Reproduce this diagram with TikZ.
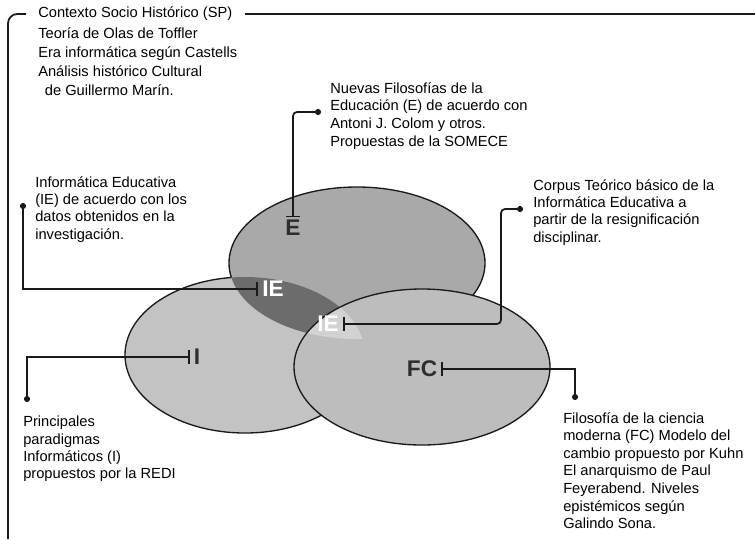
\documentclass[tikz,border=0pt]{standalone}
\usepackage{fontspec}
\setmainfont{Liberation Sans}
\usetikzlibrary{arrows.meta}
\definecolor{ovalE}{HTML}{A9A9A9}
\definecolor{ovalI}{HTML}{C3C3C3}
\definecolor{ovalFC}{HTML}{BDBDBD}
\definecolor{ovalIE}{HTML}{6C6C6C}
\definecolor{ovalmid}{HTML}{D2D2D2}
\definecolor{linegray}{HTML}{1A1A1A}
\definecolor{lettergray}{HTML}{2E2E2E}
\newcommand\ovalE{(357,263) ellipse [x radius=128, y radius=76]}
\newcommand\ovalI{(245,355) ellipse [x radius=120, y radius=78]}
\newcommand\ovalFC{(422,367) ellipse [x radius=128, y radius=78]}

\begin{document}
\begin{tikzpicture}[
  x=0.75pt, y=-0.75pt,
  note/.style={anchor=north west, inner sep=0pt, align=left, font=\fontsize{11}{13}\selectfont},
  letter/.style={inner xsep=3pt, inner ysep=2pt, font=\fontsize{17}{17}\selectfont\bfseries, text=lettergray},
  link/.style={draw=linegray, line width=1.3pt, {Circle[length=4.5pt]}-{Bar[width=10pt]}},
  frame/.style={draw=linegray, line width=1.3pt},
  rim/.style={draw=linegray, line width=1pt}
]
  \useasboundingbox (0,0) rectangle (755,539);
  % ovals
  \filldraw[fill=ovalE, rim] \ovalE;
  \fill[ovalI] \ovalI;
  \begin{scope}[even odd rule]
    \clip (0,0) rectangle (755,539) \ovalE;
    \draw[rim] \ovalI;
  \end{scope}
  \begin{scope}
    \clip \ovalE;
    \fill[ovalIE] \ovalI;
  \end{scope}
  \fill[ovalFC] \ovalFC;
  \begin{scope}
    \clip \ovalE;
    \clip \ovalI;
    \fill[ovalmid] \ovalFC;
  \end{scope}
  \draw[rim] \ovalFC;

  % letters
  \node[letter] (lblE) at (293,228) {E};
  \node[letter, text=white] (iea) at (273,289) {IE};
  \node[letter, text=white] (ieb) at (328,324) {IE};
  \node[letter] (lblI) at (197,357) {I};
  \node[letter] (lblFC) at (422,369) {FC};

  % texts
  \node[anchor=west, inner xsep=9pt, inner ysep=0pt, font=\fontsize{11}{13}\selectfont] (sptitle) at (26,14) {Contexto Socio Histórico (SP)};
  \node[note, font=\fontsize{11}{14.25}\selectfont] (spbody) at (38,27) {Teoría de Olas de Toffler\\Era informática según Castells\\Análisis histórico Cultural\\\hspace{5pt}de Guillermo Marín.};
  \node[note, font=\fontsize{11}{13.3}\selectfont] (nuevas) at (330,82) {Nuevas Filosofías de la\\Educación (E) de acuerdo con\\Antoni J. Colom y otros.\\Propuestas de la SOMECE};
  \node[note] (corpus) at (533,179) {Corpus Teórico básico de la\\Informática Educativa a\\partir de la resignificación\\disciplinar.};
  \node[note] (ietxt) at (35,176) {Informática Educativa\\(IE) de acuerdo con los\\datos obtenidos en la\\investigación.};
  \node[note] (princ) at (23,416) {Principales\\paradigmas\\Informáticos (I)\\propuestos por la REDI};
  \node[note, font=\fontsize{11}{13.2}\selectfont] (filo) at (563,412) {Filosofía de la ciencia\\moderna (FC) Modelo del\\cambio propuesto por Kuhn\\El anarquismo de Paul\\Feyerabend. Niveles\\epistémicos según\\Galindo Sona.};

  % connector ends
  \coordinate (dN) at (321,112);
  \coordinate (dC) at (523,209);
  \coordinate (kC) at (501,260);
  \coordinate (dI) at (23,203);
  \coordinate (dP) at (27,402);
  \coordinate (dF) at (575,400);

  \draw[link, rounded corners=3pt] (dN) -| (lblE.north);
  \draw[link, rounded corners=3pt] (dC) -| (kC) |- (ieb.east);
  \draw[link] (dI) |- (iea.west);
  \draw[link] (dP) |- (lblI.west);
  \draw[link] (dF) |- (lblFC.east);

  % frame
  \draw[frame, rounded corners=7pt] (sptitle.west) -- (8,14) -- (8,539);
  \draw[frame] (sptitle.east) -- (755,14);
\end{tikzpicture}
\end{document}
